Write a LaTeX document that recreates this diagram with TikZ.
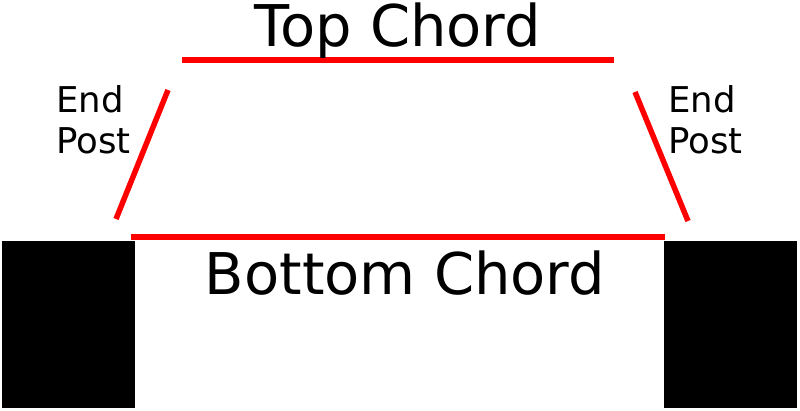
\documentclass[tikz,border=0pt]{standalone}
\usepackage{fontspec}
\setmainfont{DejaVu Sans}

\begin{document}
\begin{tikzpicture}[x=1pt, y=-1pt,
    member/.style={red, line width=5.5pt},
    support/.style={fill=black},
    chordlabel/.style={font=\fontsize{57.5}{68}\selectfont, inner sep=0pt},
    postlabel/.style={font=\fontsize{35.5}{41}\selectfont, inner sep=0pt, align=left}]

    \useasboundingbox (0, 0) rectangle (800, 411);

    % Supports
    \fill[support] (2, 241) rectangle (135, 408); % Left
    \fill[support] (664, 241) rectangle (797, 408); % Right

    % Truss members
    \coordinate (tl) at (182, 60);
    \coordinate (tr) at (614, 60);
    \coordinate (bl) at (131, 237);
    \coordinate (br) at (665, 237);
    \draw[member] (tl) -- (tr); % Top chord
    \draw[member] (bl) -- (br); % Bottom chord
    \draw[member] (168, 90) -- (116, 219); % Left end post
    \draw[member] (635, 92) -- (688, 221); % Right end post

    % Labels
    \node[chordlabel, anchor=base] (toplabel) at (398, 47) {Top Chord};
    \node[chordlabel, anchor=base] (bottomlabel) at (405, 295) {Bottom Chord};
    \node[postlabel, anchor=north west] (leftpost) at (56, 85) {End\\Post};
    \node[postlabel, anchor=north west] (rightpost) at (668, 85) {End\\Post};
\end{tikzpicture}
\end{document}
